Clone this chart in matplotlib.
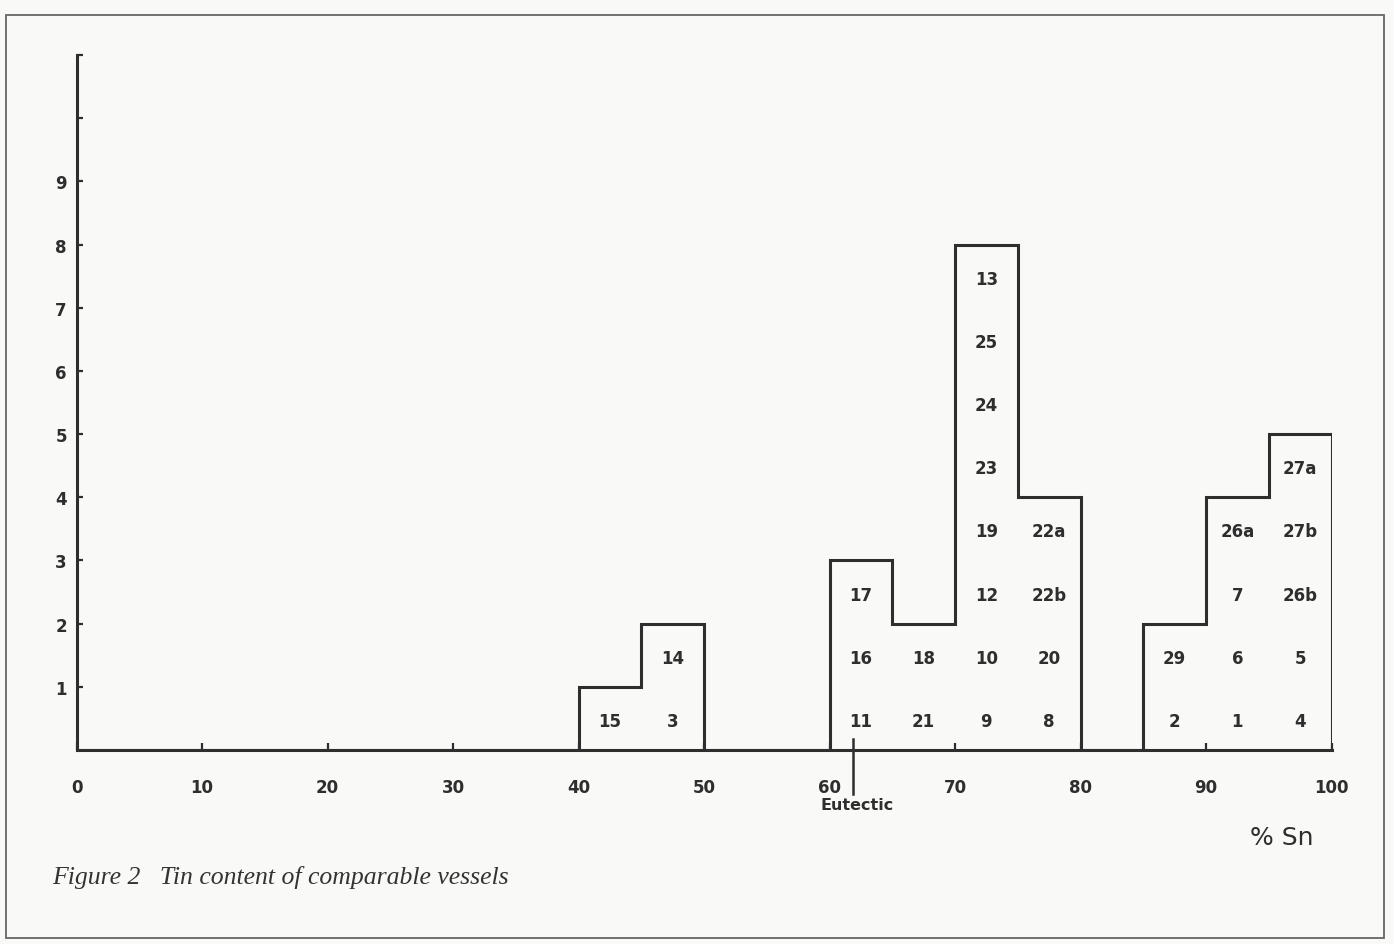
import numpy as np
import matplotlib.pyplot as plt
from matplotlib.patches import Rectangle

# tin content bins (% Sn), 5% wide
bin_left = [40, 45, 60, 65, 70, 75, 85, 90, 95]
counts = [1, 2, 3, 2, 8, 4, 2, 4, 5]
bin_width = 5

# vessel numbers stacked in each bin, bottom to top
vessels = [
    ["15"],
    ["3", "14"],
    ["11", "16", "17"],
    ["21", "18"],
    ["9", "10", "12", "19", "23", "24", "25", "13"],
    ["8", "20", "22b", "22a"],
    ["2", "29"],
    ["1", "6", "7", "26a"],
    ["4", "5", "26b", "27b", "27a"],
]

eutectic = 61.9
x_ticks = list(range(0, 101, 10))
y_ticks = list(range(1, 12))
y_ticklabels = [str(v) if v <= 9 else "" for v in y_ticks]

ink = "#2e2e2e"
paper = "#f9f9f7"
fs = 12

plt.rcParams.update({
    "font.family": "DejaVu Sans",
    "font.size": fs,
    "font.weight": "bold",
})

fig = plt.figure(figsize=(13.94, 9.45), dpi=100, facecolor=paper)
ax = fig.add_axes([76.5 / 1394, 194 / 945, 1255 / 1394, 695 / 945])
ax.set_facecolor("none")

# histogram outline built on the full 0-100 grid
edges = np.arange(0, 100 + bin_width, bin_width)
full = np.zeros(len(edges) - 1)
for left, c in zip(bin_left, counts):
    full[int(left // bin_width)] = c
ax.stairs(full, edges, baseline=0, fill=False, color=ink, linewidth=2.2)

# vessel numbers in the cells
for left, names in zip(bin_left, vessels):
    for row, name in enumerate(names):
        ax.text(left + bin_width / 2, row + 0.46, name, ha="center", va="center",
                color=ink, fontsize=fs, fontweight="bold")

ax.set_xlim(0, 100)
ax.set_ylim(0, 11)
for side in ["top", "right"]:
    ax.spines[side].set_visible(False)
for side in ["left", "bottom"]:
    ax.spines[side].set_color(ink)
    ax.spines[side].set_linewidth(2.2)

ax.set_xticks(x_ticks)
ax.set_xticklabels([str(v) for v in x_ticks])
ax.set_yticks(y_ticks)
ax.set_yticklabels(y_ticklabels)
ax.tick_params(axis="x", direction="in", length=5, width=1.6, pad=20,
               colors=ink, labelsize=fs)
ax.tick_params(axis="y", direction="in", length=4, width=1.6, pad=7,
               colors=ink, labelsize=fs)

# eutectic marker
ax.plot([eutectic, eutectic], [0.18, -0.7], color=ink, linewidth=1.8,
        clip_on=False)
ax.text(eutectic + 0.3, -0.87, "Eutectic", ha="center", va="center",
        color=ink, fontsize=fs - 0.5, fontweight="bold")

# axis title and caption
fig.text(1282 / 1394, 1 - 838 / 945, "% Sn", ha="center", va="center",
         color=ink, fontsize=18, fontweight="normal")
fig.text(52 / 1394, 1 - 878 / 945, "Figure 2   Tin content of comparable vessels",
         ha="left", va="center", color="#333333", fontsize=18.5,
         family="Liberation Serif", style="italic", fontweight="normal")

# page frame
fig.patches.append(Rectangle((6 / 1394, 6 / 945), 1378 / 1394, 923 / 945,
                             transform=fig.transFigure, fill=False,
                             edgecolor="#666666", linewidth=1.3))

plt.savefig("out.png", dpi=100, facecolor=paper)
